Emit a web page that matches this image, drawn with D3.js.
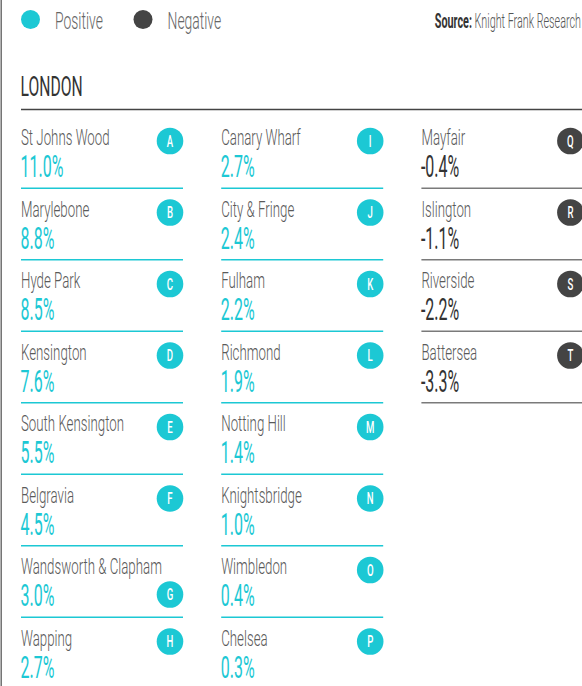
<!DOCTYPE html>
<html>
<head>
<meta charset="utf-8">
<script src="https://cdn.jsdelivr.net/npm/d3@7"></script>
<style>
  html, body { margin: 0; padding: 0; background: #fff; }
  svg { display: block; font-family: Roboto, "Liberation Sans", sans-serif; }
</style>
</head>
<body>
<div id="chart"></div>
<script>
// ---------------- data ----------------
const areas = ["St Johns Wood", "Marylebone", "Hyde Park", "Kensington", "South Kensington",
  "Belgravia", "Wandsworth & Clapham", "Wapping",
  "Canary Wharf", "City & Fringe", "Fulham", "Richmond", "Notting Hill", "Knightsbridge",
  "Wimbledon", "Chelsea",
  "Mayfair", "Islington", "Riverside", "Battersea"];
const changes = [11.0, 8.8, 8.5, 7.6, 5.5, 4.5, 3.0, 2.7,
  2.7, 2.4, 2.2, 1.9, 1.4, 1.0, 0.4, 0.3,
  -0.4, -1.1, -2.2, -3.3];
const badges = ["A","B","C","D","E","F","G","H","I","J","K","L","M","N","O","P","Q","R","S","T"];
const legendLabels = ["Positive", "Negative"];
const title = "LONDON";
const sourceLabel = "Source:";
const sourceText = "Knight Frank Research";

// ---------------- style ----------------
const W = 582, H = 686;
const CYAN = "#1cc8d4", DARK = "#444444", TEXT = "#5a5a5a";
const K = 0.59; // horizontal condensation factor
const rowsPerCol = 8;

const svg = d3.select("#chart").append("svg").attr("width", W).attr("height", H);

function ctext(sel, x, y, str, opts) {
  const g = sel.append("g").attr("transform", `translate(${x},${y}) scale(${opts.k || K},1)`);
  const t = g.append("text")
    .attr("font-size", opts.size)
    .attr("font-weight", opts.weight || 400)
    .attr("fill", opts.fill || TEXT)
    .attr("text-anchor", opts.anchor || "start")
    .text(str);
  return t;
}

// left frame line
svg.append("line").attr("x1", 1.2).attr("x2", 1.2).attr("y1", 0).attr("y2", H)
  .attr("stroke", "#666").attr("stroke-width", 1.4);

// legend
const legendX = d3.scalePoint().domain(legendLabels).range([30.5, 143]);
const legendColor = d3.scaleOrdinal().domain(legendLabels).range([CYAN, DARK]);
legendLabels.forEach(l => {
  svg.append("circle").attr("cx", legendX(l)).attr("cy", 19.5).attr("r", 9.5).attr("fill", legendColor(l));
  ctext(svg, legendX(l) + 24.5, 28.5, l, { size: 24, weight: 300, fill: "#666", k: 0.58 });
});

// source
{
  const g = svg.append("g").attr("transform", `translate(581,27.5) scale(0.54,1)`);
  const t = g.append("text").attr("font-size", 20).attr("text-anchor", "end").attr("fill", "#555");
  t.append("tspan").attr("font-weight", 700).attr("fill", "#333").text(sourceLabel + " ");
  t.append("tspan").attr("font-weight", 300).text(sourceText);
}

// title
ctext(svg, 20.5, 95.5, title, { size: 28.5, weight: 400, fill: "#333", k: 0.55 });
svg.append("line").attr("x1", 21).attr("x2", W).attr("y1", 109.5).attr("y2", 109.5)
  .attr("stroke", "#444").attr("stroke-width", 1.5);

// grid scales
const nCols = Math.ceil(areas.length / rowsPerCol);
const colX = d3.scaleLinear().domain([0, 1]).range([21, 221.2]);
const rowY = d3.scaleLinear().domain([0, 1]).range([110, 181.5]);
const colW = 162;

const data = areas.map((a, i) => ({
  name: a, value: changes[i], badge: badges[i],
  col: Math.floor(i / rowsPerCol), row: i % rowsPerCol
}));

const fmt = d => (d < 0 ? "-" : "") + Math.abs(d).toFixed(1) + "%";

data.forEach(d => {
  const x0 = colX(d.col), y0 = rowY(d.row);
  const pos = d.value >= 0;
  const g = svg.append("g");
  const nameT = ctext(g, x0, y0 + 35, d.name, { size: 22.5, weight: 300, fill: TEXT });
  ctext(g, x0 - 0.5, y0 + 67, fmt(d.value), { size: 32, weight: 400, fill: pos ? CYAN : "#333", k: 0.5 });
  // separator
  g.append("line").attr("x1", x0).attr("x2", d.col === nCols - 1 ? W : x0 + colW)
    .attr("y1", y0 + 78.3).attr("y2", y0 + 78.3)
    .attr("stroke", pos ? CYAN : "#7a7a7a").attr("stroke-width", 1.6);
  // badge
  const cx = x0 + 149, r = 13.3;
  const nameRight = x0 + nameT.node().getComputedTextLength() * K;
  const cy = nameRight > cx - r - 4 ? y0 + 55.5 : y0 + 31;
  g.append("circle").attr("cx", cx).attr("cy", cy).attr("r", r).attr("fill", pos ? CYAN : DARK);
  ctext(g, cx, cy + 5.5, d.badge, { size: 16, weight: 500, fill: "#fff", anchor: "middle", k: 0.6 });
});
</script>
</body>
</html>
